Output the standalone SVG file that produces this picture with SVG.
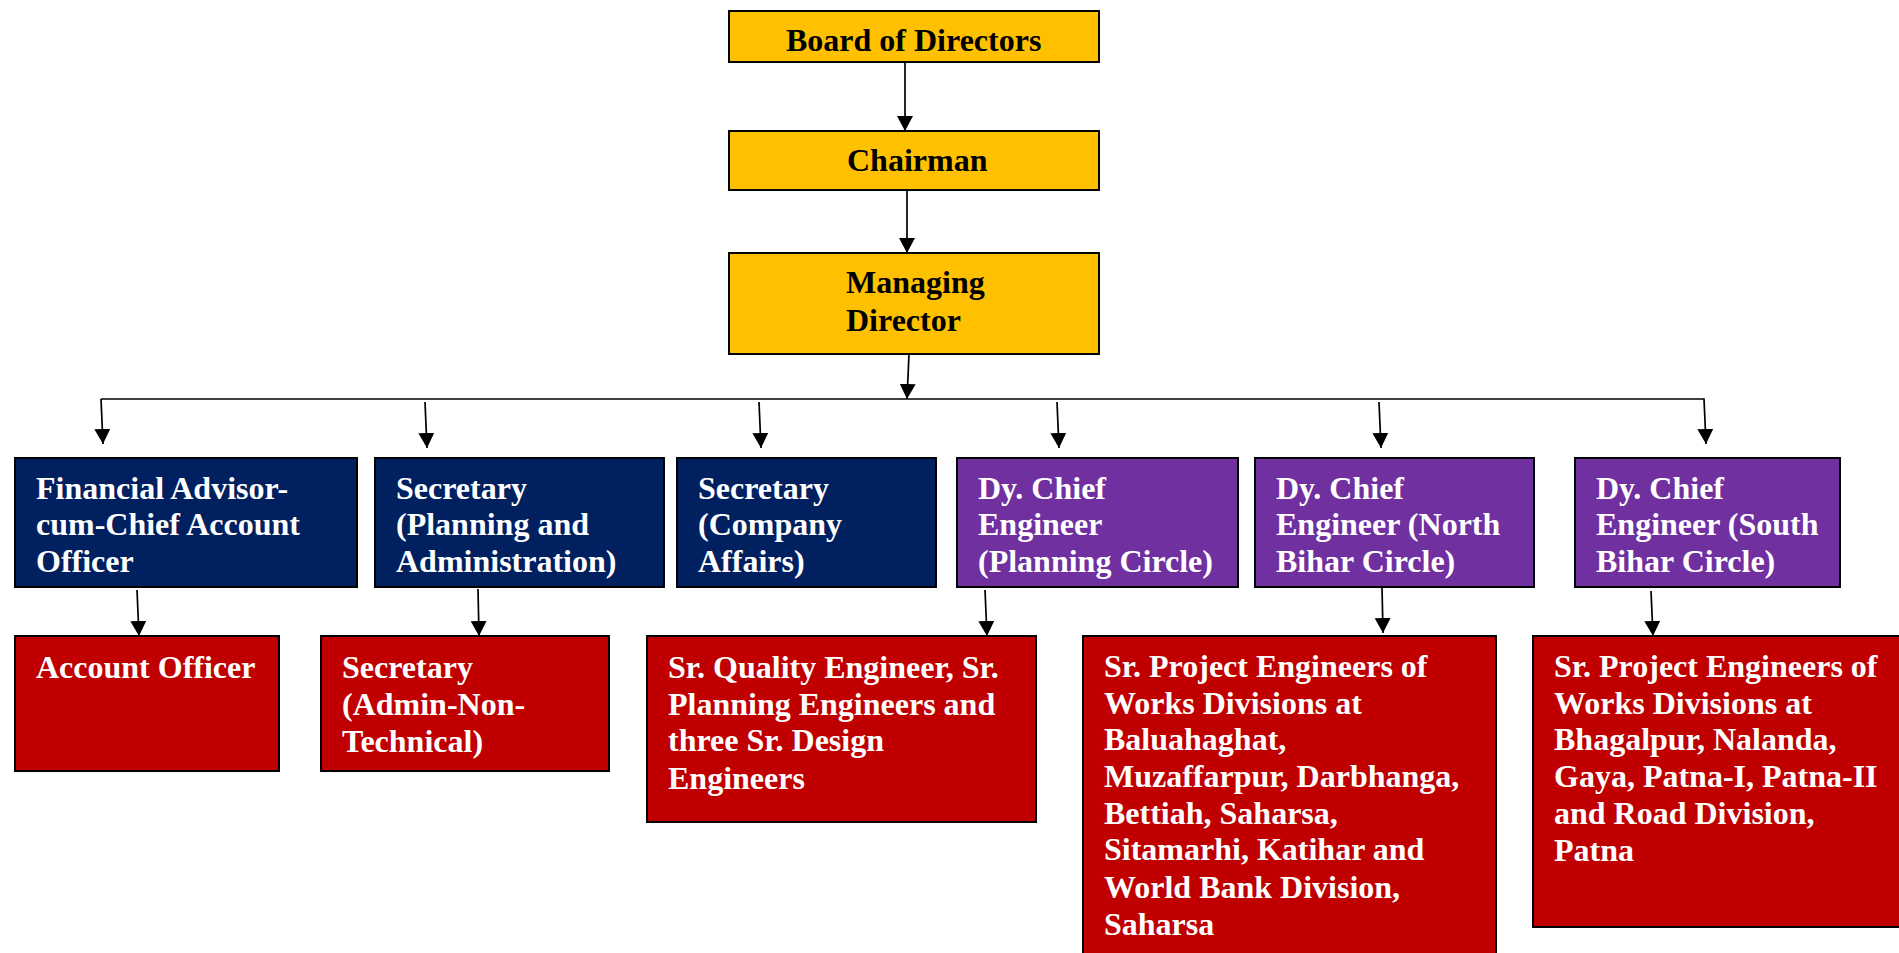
<svg xmlns="http://www.w3.org/2000/svg" width="1899" height="953" viewBox="0 0 1899 953">
<style>
.box{stroke:#000;stroke-width:2}
.gold{fill:#FFC000}
.blue{fill:#002060}
.purple{fill:#7030A0}
.red{fill:#C00000}
.t{font-family:"Liberation Serif","Times New Roman",serif;font-weight:bold;font-size:32px}
.dk{fill:#000}
.wt{fill:#fff}
.c{stroke:#000;stroke-width:1.7;fill:none}
</style>
<defs>
<marker id="ah" markerUnits="userSpaceOnUse" markerWidth="17" markerHeight="17" refX="15" refY="8" orient="auto" viewBox="0 0 17 17">
<path d="M0,0 L15,8 L0,16 z" fill="#000"/>
</marker>
</defs>
<rect width="1899" height="953" fill="#fff"/>
<g id="connectors">
<line class="c" x1="905" y1="62" x2="905" y2="131" marker-end="url(#ah)"/>
<line class="c" x1="907" y1="190" x2="907" y2="253" marker-end="url(#ah)"/>
<line class="c" x1="909" y1="354" x2="907" y2="399" marker-end="url(#ah)"/>
<polyline class="c" points="101,399 1704,399 1706,444" marker-end="url(#ah)"/>
<line class="c" x1="101" y1="399" x2="103" y2="444" marker-end="url(#ah)"/>
<line class="c" x1="425" y1="402" x2="427" y2="448" marker-end="url(#ah)"/>
<line class="c" x1="759" y1="402" x2="761" y2="448" marker-end="url(#ah)"/>
<line class="c" x1="1057" y1="402" x2="1059" y2="448" marker-end="url(#ah)"/>
<line class="c" x1="1379" y1="402" x2="1381" y2="448" marker-end="url(#ah)"/>
<line class="c" x1="137" y1="590" x2="139" y2="636" marker-end="url(#ah)"/>
<line class="c" x1="478" y1="589" x2="479" y2="636" marker-end="url(#ah)"/>
<line class="c" x1="985" y1="590" x2="987" y2="636" marker-end="url(#ah)"/>
<line class="c" x1="1382" y1="587" x2="1383" y2="633" marker-end="url(#ah)"/>
<line class="c" x1="1651" y1="591" x2="1653" y2="636" marker-end="url(#ah)"/>
</g>
<g id="board">
<rect class="box gold" x="729" y="11" width="370" height="51"/>
<text class="t dk" x="786" y="51">Board of Directors</text>
</g>
<g id="chairman">
<rect class="box gold" x="729" y="131" width="370" height="59"/>
<text class="t dk" x="847" y="171">Chairman</text>
</g>
<g id="md">
<rect class="box gold" x="729" y="253" width="370" height="101"/>
<text class="t dk" y="293"><tspan x="846">Managing</tspan><tspan x="846" y="331">Director</tspan></text>
</g>
<g id="fa">
<rect class="box blue" x="15" y="458" width="342" height="129"/>
<text class="t wt" y="499"><tspan x="36">Financial Advisor-</tspan><tspan x="36" y="535">cum-Chief Account</tspan><tspan x="36" y="572">Officer</tspan></text>
</g>
<g id="secpa">
<rect class="box blue" x="375" y="458" width="289" height="129"/>
<text class="t wt" y="499"><tspan x="396">Secretary</tspan><tspan x="396" y="535">(Planning and</tspan><tspan x="396" y="572">Administration)</tspan></text>
</g>
<g id="secca">
<rect class="box blue" x="677" y="458" width="259" height="129"/>
<text class="t wt" y="499"><tspan x="698">Secretary</tspan><tspan x="698" y="535">(Company</tspan><tspan x="698" y="572">Affairs)</tspan></text>
</g>
<g id="dcepc">
<rect class="box purple" x="957" y="458" width="281" height="129"/>
<text class="t wt" y="499"><tspan x="978">Dy. Chief</tspan><tspan x="978" y="535">Engineer</tspan><tspan x="978" y="572">(Planning Circle)</tspan></text>
</g>
<g id="dcenb">
<rect class="box purple" x="1255" y="458" width="279" height="129"/>
<text class="t wt" y="499"><tspan x="1276">Dy. Chief</tspan><tspan x="1276" y="535">Engineer (North</tspan><tspan x="1276" y="572">Bihar Circle)</tspan></text>
</g>
<g id="dcesb">
<rect class="box purple" x="1575" y="458" width="265" height="129"/>
<text class="t wt" y="499"><tspan x="1596">Dy. Chief</tspan><tspan x="1596" y="535">Engineer (South</tspan><tspan x="1596" y="572">Bihar Circle)</tspan></text>
</g>
<g id="ao">
<rect class="box red" x="15" y="636" width="264" height="135"/>
<text class="t wt" x="36" y="678">Account Officer</text>
</g>
<g id="secant">
<rect class="box red" x="321" y="636" width="288" height="135"/>
<text class="t wt" y="678"><tspan x="342">Secretary</tspan><tspan x="342" y="715">(Admin-Non-</tspan><tspan x="342" y="752">Technical)</tspan></text>
</g>
<g id="srqe">
<rect class="box red" x="647" y="636" width="389" height="186"/>
<text class="t wt" y="678"><tspan x="668">Sr. Quality Engineer, Sr.</tspan><tspan x="668" y="715">Planning Engineers and</tspan><tspan x="668" y="751">three Sr. Design</tspan><tspan x="668" y="789">Engineers</tspan></text>
</g>
<g id="srpen">
<rect class="box red" x="1083" y="636" width="413" height="330"/>
<text class="t wt" y="677"><tspan x="1104">Sr. Project Engineers of</tspan><tspan x="1104" y="714">Works Divisions at</tspan><tspan x="1104" y="750">Baluahaghat,</tspan><tspan x="1104" y="787">Muzaffarpur, Darbhanga,</tspan><tspan x="1104" y="824">Bettiah, Saharsa,</tspan><tspan x="1104" y="860">Sitamarhi, Katihar and</tspan><tspan x="1104" y="898">World Bank Division,</tspan><tspan x="1104" y="935">Saharsa</tspan></text>
</g>
<g id="srpes">
<rect class="box red" x="1533" y="636" width="380" height="291"/>
<text class="t wt" y="677"><tspan x="1554">Sr. Project Engineers of</tspan><tspan x="1554" y="714">Works Divisions at</tspan><tspan x="1554" y="750">Bhagalpur, Nalanda,</tspan><tspan x="1554" y="787">Gaya, Patna-I, Patna-II</tspan><tspan x="1554" y="824">and Road Division,</tspan><tspan x="1554" y="861">Patna</tspan></text>
</g>
</svg>
